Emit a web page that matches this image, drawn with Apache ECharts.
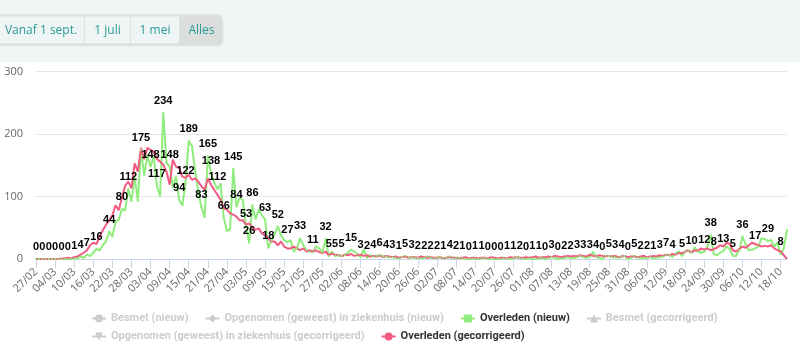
<!DOCTYPE html>
<html>
<head>
<meta charset="utf-8">
<script src="https://cdn.jsdelivr.net/npm/echarts@6.0.0/dist/echarts.min.js"></script>
<style>
html, body { margin: 0; padding: 0; background: #fff; }
#chart { width: 800px; height: 354px; }
</style>
</head>
<body>
<div id="chart"></div>
<script>
// dagelijkse reeks vanaf 27/02 t/m 20/10
const startDatum = new Date(2020, 1, 27)
const aantalDagen = 237
const dagen = []
for (let i = 0; i < aantalDagen; i++) {
  const d = new Date(startDatum.getFullYear(), startDatum.getMonth(), startDatum.getDate() + i)
  dagen.push(String(d.getDate()).padStart(2, '0') + '/' + String(d.getMonth() + 1).padStart(2, '0'))
}

const yTicks = [0, 100, 200, 300]

// Overleden (nieuw), per dag
const overledenNieuw = [
  0, 0, 0, 0, 0, 0, 0, 0, 0, 0,
  0, 0, 1, 1, 4, 2, 7, 5, 10, 16,
  14, 22, 28, 44, 36, 60, 63, 80, 78, 112,
  93, 132, 93, 175, 134, 166, 148, 164, 117, 101,
  234, 154, 148, 115, 132, 94, 86, 122, 189, 181,
  142, 108, 83, 67, 165, 138, 123, 112, 120, 66,
  45, 48, 145, 84, 98, 94, 53, 26, 86, 64,
  79, 70, 63, 18, 30, 40, 52, 38, 30, 27,
  30, 12, 17, 33, 22, 14, 12, 11, 20, 17,
  10, 32, 5, 12, 5, 6, 5, 6, 10, 15,
  12, 8, 3, 15, 2, 6, 4, 5, 6, 4,
  4, 3, 3, 2, 1, 3, 5, 2, 3, 2,
  2, 1, 2, 4, 2, 1, 2, 3, 1, 2,
  4, 1, 2, 2, 1, 0, 0, 1, 1, 0,
  1, 2, 0, 1, 0, 0, 0, 2, 1, 0,
  1, 3, 2, 1, 0, 1, 1, 0, 1, 2,
  0, 1, 3, 2, 0, 1, 2, 3, 2, 1,
  3, 5, 3, 2, 3, 11, 4, 2, 0, 5,
  5, 3, 3, 2, 4, 5, 0, 2, 5, 2,
  2, 1, 2, 3, 1, 2, 3, 4, 7, 6,
  4, 9, 12, 5, 12, 14, 10, 18, 12, 10,
  12, 20, 38, 8, 6, 10, 13, 20, 16, 5,
  5, 14, 36, 24, 14, 15, 17, 20, 33, 32,
  29, 30, 20, 26, 8, 17, 47
]

// Overleden (gecorrigeerd), per dag
const overledenGecorrigeerd = [
  0, 0, 0, 0, 0, 0, 0, 0, 1, 1,
  2, 1, 3, 4, 7, 10, 14, 22, 26, 24,
  36, 46, 55, 62, 70, 86, 78, 98, 117, 124,
  113, 153, 140, 178, 160, 178, 175, 172, 160, 156,
  151, 140, 119, 159, 148, 146, 132, 130, 135, 127,
  129, 124, 116, 111, 129, 119, 111, 103, 95, 81,
  79, 73, 71, 68, 62, 62, 55, 57, 50, 47,
  49, 41, 38, 33, 28, 28, 22, 28, 20, 17,
  17, 20, 17, 14, 17, 12, 14, 12, 14, 11,
  9, 12, 6, 9, 6, 7, 4, 7, 6, 8,
  5, 6, 7, 5, 6, 4, 5, 4, 6, 3,
  5, 4, 3, 4, 2, 3, 4, 2, 3, 3,
  2, 4, 3, 2, 3, 2, 2, 3, 1, 2,
  3, 2, 2, 1, 2, 3, 1, 2, 2, 1,
  2, 2, 1, 3, 2, 1, 2, 2, 1, 3,
  2, 3, 2, 2, 3, 2, 3, 4, 2, 3,
  3, 4, 3, 5, 4, 3, 4, 5, 4, 5,
  4, 6, 5, 4, 7, 5, 4, 6, 5, 4,
  5, 4, 5, 3, 4, 5, 3, 4, 4, 3,
  4, 5, 3, 4, 5, 4, 6, 5, 7, 6,
  8, 7, 10, 9, 12, 14, 10, 14, 13, 17,
  15, 17, 14, 16, 18, 22, 20, 26, 24, 14,
  12, 16, 20, 18, 22, 26, 24, 22, 20, 21,
  20, 22, 17, 14, 12, 6, 0
]

const knoppen = ['Vanaf 1 sept.', '1 juli', '1 mei', 'Alles']

const legendaRij1 = ['Besmet (nieuw)', 'Opgenomen (geweest) in ziekenhuis (nieuw)', 'Overleden (nieuw)', 'Besmet (gecorrigeerd)']
const legendaRij2 = ['Opgenomen (geweest) in ziekenhuis (gecorrigeerd)', 'Overleden (gecorrigeerd)']

// legend iconen: lijntje met marker
const lijn = 'M0,3 L14,3 L14,5 L0,5 Z '
const iconen = {
  cirkel: 'path://' + lijn + 'M7,0 A4,4 0 1,1 7,8 A4,4 0 1,1 7,0 Z',
  ruit: 'path://' + lijn + 'M7,0 L11,4 L7,8 L3,4 Z',
  vierkant: 'path://' + lijn + 'M3,0 L11,0 L11,8 L3,8 Z',
  driehoek: 'path://' + lijn + 'M7,0 L11,8 L3,8 Z',
  driehoekOmlaag: 'path://' + lijn + 'M3,0 L11,0 L7,8 Z'
}

const legendFont = { size: 11, family: 'Roboto', weight: 'bold' }
const icoonBreedte = 14
const itemAfstand = 17

// legenda centreren op basis van de breedte van de eerste rij
const ctx = document.createElement('canvas').getContext('2d')
ctx.font = legendFont.weight + ' ' + legendFont.size + 'px ' + legendFont.family
let rijBreedte = itemAfstand * (legendaRij1.length - 1)
legendaRij1.forEach(t => { rijBreedte += icoonBreedte + 5 + ctx.measureText(t).width })
const legendLinks = Math.round((800 - rijBreedte) / 2)

const legendTekst = {
  color: '#333333',
  fontSize: legendFont.size,
  fontWeight: legendFont.weight,
  fontFamily: legendFont.family
}

const chart = echarts.init(document.getElementById('chart'))

const knopX = [-6, 84, 130, 179, 222]
const knopMidden = [41, 107.5, 155, 201.5]
const graphic = [
  { type: 'rect', shape: { x: 0, y: 0, width: 800, height: 62 }, style: { fill: '#f1f5f5' }, silent: true },
  { type: 'rect', shape: { x: -6, y: 15, width: 228, height: 29, r: 4 },
    style: { fill: '#eff4f4', stroke: '#dbe1e1', lineWidth: 1, shadowColor: 'rgba(0,0,0,0.12)', shadowBlur: 2, shadowOffsetY: 1 } },
  { type: 'rect', shape: { x: 179, y: 15, width: 43, height: 29, r: [0, 4, 4, 0] }, style: { fill: '#dcdede' } }
]
for (let i = 1; i < 4; i++) {
  graphic.push({ type: 'line', shape: { x1: knopX[i] + 0.5, y1: 15, x2: knopX[i] + 0.5, y2: 44 }, style: { stroke: '#dbe1e1', lineWidth: 1 } })
}
knoppen.forEach((t, i) => {
  graphic.push({
    type: 'text',
    x: knopMidden[i],
    y: 31,
    style: { text: t, fill: '#2a9a96', font: '12px "Open Sans", sans-serif', textAlign: 'center', textVerticalAlign: 'middle' }
  })
})

// het laatste punt valt buiten de plot, daar geen label
const nieuwData = overledenNieuw.map((v, i) => i === overledenNieuw.length - 1 ? { value: v, label: { show: false } } : v)

chart.setOption({
  animation: false,
  graphic,
  grid: { left: 36, right: 13, top: 71.7, bottom: 95, outerBoundsMode: 'none' },
  legend: [
    {
      left: legendLinks, top: 308, orient: 'horizontal',
      itemWidth: icoonBreedte, itemHeight: 8, itemGap: itemAfstand,
      inactiveColor: '#cccccc',
      textStyle: legendTekst,
      data: [
        { name: legendaRij1[0], icon: iconen.cirkel },
        { name: legendaRij1[1], icon: iconen.ruit },
        { name: legendaRij1[2], icon: iconen.vierkant },
        { name: legendaRij1[3], icon: iconen.driehoek }
      ],
      selected: {
        [legendaRij1[0]]: false,
        [legendaRij1[1]]: false,
        [legendaRij1[3]]: false
      }
    },
    {
      left: legendLinks, top: 326, orient: 'horizontal',
      itemWidth: icoonBreedte, itemHeight: 8, itemGap: itemAfstand,
      inactiveColor: '#cccccc',
      textStyle: legendTekst,
      data: [
        { name: legendaRij2[0], icon: iconen.driehoekOmlaag },
        { name: legendaRij2[1], icon: iconen.cirkel }
      ],
      selected: {
        [legendaRij2[0]]: false
      }
    }
  ],
  xAxis: {
    type: 'category',
    boundaryGap: false,
    data: dagen,
    axisLine: { lineStyle: { color: '#ccd6eb' } },
    axisTick: { show: true, interval: 5, length: 9, lineStyle: { color: '#ccd6eb' } },
    axisLabel: {
      interval: 5, rotate: 45, margin: 11,
      color: '#666666', fontSize: 11, fontFamily: '"Open Sans", sans-serif'
    },
    splitLine: { show: false }
  },
  yAxis: {
    type: 'value',
    min: yTicks[0],
    max: yTicks[yTicks.length - 1],
    interval: 100,
    axisLine: { show: false },
    axisTick: { show: false },
    axisLabel: { margin: 13, color: '#666666', fontSize: 11, fontFamily: '"Open Sans", sans-serif' },
    splitLine: { lineStyle: { color: '#e6e6e6' } }
  },
  series: [
    { name: legendaRij1[0], type: 'line', color: '#7cb5ec', data: [] },
    { name: legendaRij1[1], type: 'line', color: '#434348', data: [] },
    {
      name: legendaRij1[2],
      type: 'line',
      color: '#90ed7d',
      data: nieuwData,
      symbol: 'circle',
      symbolSize: 2,
      showAllSymbol: true,
      lineStyle: { width: 2 },
      emphasis: { disabled: true },
      label: {
        show: true,
        position: 'top',
        distance: 3.5,
        // onzichtbare achtergrond zodat de padding meetelt bij het verbergen van overlap
        backgroundColor: 'rgba(255,255,255,0)',
        padding: [2, 0],
        color: '#000000',
        fontSize: 11,
        fontWeight: 'bold',
        fontFamily: '"Liberation Sans", Arial, sans-serif'
      },
      labelLayout: { hideOverlap: true }
    },
    { name: legendaRij1[3], type: 'line', color: '#f7a35c', data: [] },
    { name: legendaRij2[0], type: 'line', color: '#8085e9', data: [] },
    {
      name: legendaRij2[1],
      type: 'line',
      color: '#f15c80',
      data: overledenGecorrigeerd,
      showSymbol: false,
      lineStyle: { width: 2 },
      emphasis: { disabled: true }
    }
  ]
})
</script>
</body>
</html>
